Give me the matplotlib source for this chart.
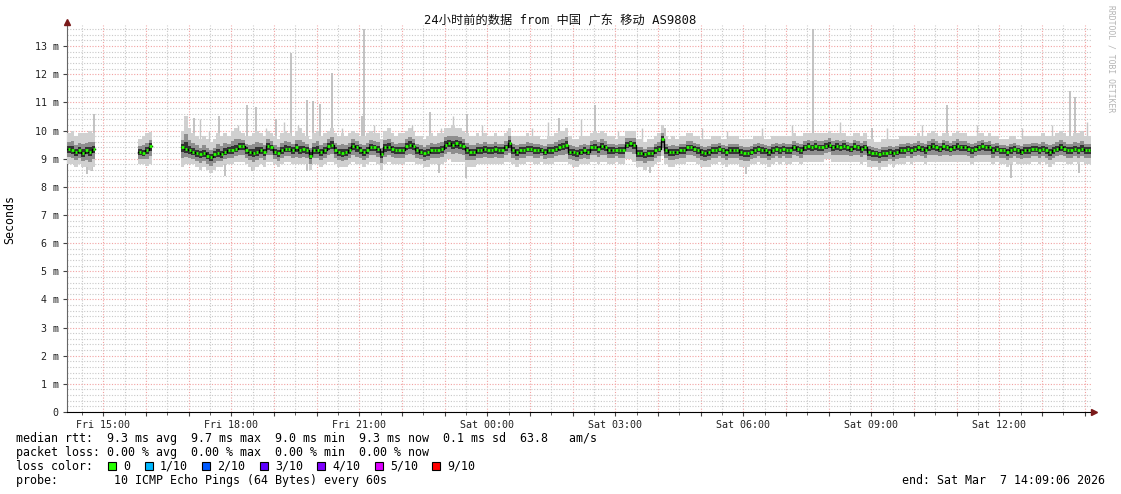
#encoding:utf-8
# smokeping 24h graph, redrawn with matplotlib
import matplotlib as mpl
mpl.use('Agg')
import matplotlib.pyplot as plt
from matplotlib.patches import Rectangle
from matplotlib.ticker import FixedLocator, MultipleLocator
import numpy as np

W, H = 1121, 494
STEP = 5  # minutes per sample

# --- data (milliseconds), start minute of every segment ---
seg_start = [0, 100, 160]

med1 = [9.35, 9.3, 9.25, 9.3, 9.2, 9.3, 9.25, 9.35]
hi1 = [9.9, 10.0, 9.8, 9.9, 9.9, 9.9, 10.0, 9.9]
lo1 = [8.8, 8.8, 8.7, 8.8, 8.7, 8.7, 8.6, 8.7]

med2 = [9.25, 9.2, 9.3, 9.45]
hi2 = [9.7, 9.8, 9.9, 9.95]
lo2 = [8.8, 8.8, 8.75, 8.8]

med3 = [
    9.4, 9.35, 9.3, 9.25, 9.2, 9.15, 9.2, 9.1, 9.05, 9.15, 9.2, 9.15,
    9.25, 9.3, 9.3, 9.35, 9.45, 9.45, 9.3, 9.25, 9.2, 9.25, 9.3, 9.25,
    9.45, 9.4, 9.25, 9.2, 9.3, 9.35, 9.35, 9.3, 9.4, 9.3, 9.35, 9.3,
    9.1, 9.3, 9.3, 9.25, 9.3, 9.45, 9.5, 9.3, 9.25, 9.2, 9.25, 9.3,
    9.45, 9.4, 9.3, 9.25, 9.3, 9.4, 9.4, 9.35, 9.15, 9.4, 9.4, 9.35,
    9.3, 9.3, 9.3, 9.45, 9.5, 9.45, 9.3, 9.25, 9.2, 9.25, 9.3, 9.3,
    9.3, 9.35, 9.5, 9.55, 9.5, 9.55, 9.5, 9.45, 9.3, 9.25, 9.25, 9.3,
    9.3, 9.35, 9.3, 9.3, 9.35, 9.3, 9.3, 9.4, 9.55, 9.3, 9.25, 9.3,
    9.3, 9.35, 9.35, 9.3, 9.3, 9.3, 9.25, 9.3, 9.3, 9.35, 9.4, 9.45,
    9.5, 9.25, 9.25, 9.2, 9.25, 9.3, 9.25, 9.4, 9.4, 9.35, 9.45, 9.4,
    9.3, 9.3, 9.3, 9.3, 9.3, 9.5, 9.55, 9.5, 9.2, 9.2, 9.15, 9.2,
    9.2, 9.3, 9.35, 9.7, 9.3, 9.25, 9.25, 9.25, 9.3, 9.3, 9.4, 9.4,
    9.35, 9.3, 9.25, 9.2, 9.25, 9.3, 9.3, 9.35, 9.3, 9.25, 9.3, 9.3,
    9.3, 9.25, 9.2, 9.2, 9.25, 9.3, 9.35, 9.3, 9.3, 9.25, 9.3, 9.35,
    9.3, 9.35, 9.3, 9.3, 9.4, 9.35, 9.3, 9.4, 9.45, 9.4, 9.45, 9.4,
    9.4, 9.45, 9.5, 9.4, 9.45, 9.4, 9.45, 9.4, 9.35, 9.45, 9.4, 9.35,
    9.4, 9.25, 9.2, 9.2, 9.15, 9.2, 9.2, 9.25, 9.2, 9.25, 9.3, 9.3,
    9.35, 9.3, 9.35, 9.4, 9.35, 9.3, 9.4, 9.45, 9.4, 9.35, 9.45, 9.4,
    9.35, 9.4, 9.45, 9.4, 9.4, 9.35, 9.3, 9.35, 9.4, 9.45, 9.4, 9.4,
    9.3, 9.35, 9.3, 9.3, 9.25, 9.3, 9.35, 9.3, 9.25, 9.3, 9.3, 9.35,
    9.35, 9.3, 9.35, 9.3, 9.25, 9.3, 9.35, 9.4, 9.35, 9.3, 9.3, 9.35,
    9.3, 9.35, 9.3, 9.3,
]
hi3 = [
    10.0, 10.5, 10.1, 9.9, 9.8, 9.7, 9.8, 9.7, 9.6, 9.7, 9.9, 9.8,
    9.9, 9.8, 10.0, 10.1, 10.0, 9.9, 9.8, 9.8, 9.9, 10.0, 9.9, 9.8,
    10.0, 9.9, 9.8, 9.7, 9.9, 10.0, 9.9, 9.8, 10.0, 10.1, 9.9, 9.8,
    9.7, 9.9, 10.0, 9.8, 9.9, 10.0, 10.1, 9.9, 9.8, 9.9, 9.8, 9.9,
    10.0, 9.9, 9.8, 9.8, 9.9, 10.0, 9.9, 9.9, 9.7, 10.0, 10.1, 9.9,
    9.8, 9.9, 9.9, 10.0, 10.1, 10.0, 9.8, 9.8, 9.7, 9.8, 9.9, 9.8,
    9.9, 9.9, 10.1, 10.1, 10.2, 10.1, 10.1, 10.0, 9.9, 9.8, 9.8, 9.9,
    9.8, 9.9, 9.8, 9.8, 9.9, 9.8, 9.8, 9.9, 10.1, 9.8, 9.8, 9.8,
    9.8, 9.9, 9.8, 9.8, 9.8, 9.7, 9.7, 9.8, 9.8, 9.9, 10.0, 10.0,
    10.1, 9.8, 9.7, 9.7, 9.8, 9.8, 9.8, 9.9, 10.0, 9.9, 10.0, 9.9,
    9.8, 9.8, 9.7, 9.8, 9.8, 10.0, 10.0, 10.0, 9.7, 9.7, 9.6, 9.7,
    9.7, 9.8, 9.9, 10.2, 9.8, 9.7, 9.8, 9.7, 9.8, 9.8, 9.9, 9.9,
    9.8, 9.8, 9.7, 9.7, 9.7, 9.8, 9.8, 9.8, 9.7, 9.7, 9.8, 9.8,
    9.8, 9.7, 9.7, 9.7, 9.7, 9.8, 9.8, 9.8, 9.7, 9.7, 9.8, 9.8,
    9.8, 9.8, 9.8, 9.8, 9.9, 9.8, 9.8, 9.9, 9.9, 9.9, 9.9, 9.9,
    9.9, 9.9, 10.0, 9.9, 9.9, 9.9, 9.9, 9.8, 9.8, 9.9, 9.9, 9.8,
    9.9, 9.7, 9.7, 9.6, 9.6, 9.7, 9.7, 9.7, 9.7, 9.7, 9.8, 9.8,
    9.8, 9.8, 9.8, 9.9, 9.8, 9.8, 9.9, 10.0, 9.9, 9.8, 9.9, 9.9,
    9.8, 9.9, 10.0, 9.9, 9.9, 9.8, 9.8, 9.8, 9.9, 9.9, 9.8, 9.9,
    9.8, 9.8, 9.7, 9.7, 9.7, 9.8, 9.8, 9.7, 9.7, 9.8, 9.8, 9.8,
    9.8, 9.8, 9.9, 9.8, 9.8, 9.8, 9.9, 10.0, 9.9, 9.8, 9.8, 9.9,
    9.9, 10.0, 9.8, 9.8,
]
lo3 = [
    8.7, 8.8, 8.8, 8.8, 8.7, 8.6, 8.7, 8.6, 8.5, 8.6, 8.7, 8.7,
    8.8, 8.8, 8.8, 8.9, 8.9, 8.9, 8.8, 8.7, 8.6, 8.7, 8.8, 8.7,
    8.9, 8.9, 8.8, 8.7, 8.8, 8.9, 8.9, 8.8, 8.8, 8.8, 8.8, 8.8,
    8.6, 8.8, 8.8, 8.7, 8.8, 8.9, 8.9, 8.8, 8.7, 8.7, 8.7, 8.8,
    8.9, 8.8, 8.8, 8.7, 8.8, 8.9, 8.9, 8.8, 8.6, 8.8, 8.9, 8.8,
    8.8, 8.8, 8.8, 8.9, 8.9, 8.9, 8.8, 8.8, 8.7, 8.7, 8.8, 8.8,
    8.8, 8.8, 8.9, 9.0, 8.9, 8.9, 8.9, 8.9, 8.7, 8.7, 8.7, 8.8,
    8.8, 8.8, 8.8, 8.8, 8.8, 8.8, 8.8, 8.9, 8.9, 8.8, 8.7, 8.8,
    8.8, 8.9, 8.9, 8.8, 8.8, 8.9, 8.8, 8.8, 8.8, 8.9, 8.9, 8.9,
    8.9, 8.8, 8.7, 8.7, 8.8, 8.8, 8.8, 8.9, 8.9, 8.8, 8.9, 8.9,
    8.8, 8.8, 8.9, 8.8, 8.8, 9.0, 9.0, 8.9, 8.7, 8.7, 8.6, 8.7,
    8.7, 8.8, 8.9, 9.1, 8.8, 8.7, 8.7, 8.8, 8.8, 8.8, 8.9, 8.9,
    8.9, 8.8, 8.7, 8.7, 8.7, 8.8, 8.8, 8.9, 8.8, 8.7, 8.8, 8.8,
    8.8, 8.7, 8.7, 8.7, 8.8, 8.8, 8.9, 8.8, 8.8, 8.7, 8.8, 8.9,
    8.8, 8.9, 8.8, 8.8, 8.9, 8.9, 8.8, 8.9, 8.9, 8.9, 8.9, 8.9,
    8.9, 9.0, 9.0, 8.9, 8.9, 8.9, 8.9, 8.9, 8.9, 8.9, 8.9, 8.8,
    8.9, 8.7, 8.7, 8.7, 8.6, 8.7, 8.7, 8.8, 8.7, 8.8, 8.8, 8.8,
    8.9, 8.8, 8.9, 8.9, 8.9, 8.8, 8.9, 8.9, 8.9, 8.9, 8.9, 8.9,
    8.9, 8.9, 8.9, 8.9, 8.9, 8.9, 8.8, 8.9, 8.9, 8.9, 8.9, 8.9,
    8.8, 8.9, 8.8, 8.8, 8.7, 8.8, 8.9, 8.8, 8.8, 8.8, 8.8, 8.9,
    8.9, 8.8, 8.9, 8.8, 8.7, 8.8, 8.9, 8.9, 8.9, 8.8, 8.8, 8.9,
    8.8, 8.9, 8.8, 8.8,
]

# single slow pings (minute, ms)
spike_min = [35, 176, 211, 250, 263, 292, 312, 335, 343, 353, 370, 412, 415,
             508, 560, 690, 740, 838, 1046, 1129, 1235, 1408, 1415]
spike_top = [10.6, 10.45, 10.5, 10.9, 10.85, 10.4, 12.75, 11.1, 11.05, 10.95, 12.05, 10.5, 13.6,
             10.65, 10.6, 10.45, 10.9, 10.1, 13.6, 10.1, 10.9, 11.4, 11.2]
small_min = [184, 197, 238, 278, 302, 322, 384, 429, 447, 482, 524, 541, 581, 616, 651,
             674, 721, 773, 806, 890, 925, 975, 1017, 1084, 1150, 1200, 1277, 1340, 1382, 1432]
small_top = [10.4, 10.0, 10.2, 10.1, 10.3, 10.2, 10.1, 10.2, 10.0, 10.2, 10.1, 10.5, 10.2, 10.0, 10.1,
             10.3, 10.4, 10.0, 10.1, 10.1, 10.0, 10.1, 10.2, 10.3, 10.1, 10.2, 10.2, 10.1, 10.2, 10.3]
dip_min = [25, 32, 219, 257, 335, 520, 558, 818, 952, 1325, 1420]
dip_val = [8.45, 8.55, 8.4, 8.55, 8.55, 8.5, 8.3, 8.5, 8.45, 8.3, 8.5]

tick_labels = ['Fri 15:00', 'Fri 18:00', 'Fri 21:00', 'Sat 00:00',
               'Sat 03:00', 'Sat 06:00', 'Sat 09:00', 'Sat 12:00']
first_hour = 50.9 / 60  # 15:00 relative to start 14:09:06

loss_labels = ['0', '1/10', '2/10', '3/10', '4/10', '5/10', '9/10']
loss_colors = ['#26ff00', '#00b8ff', '#0059ff', '#5e00ff', '#7e00ff', '#dd00ff', '#ff0000']

title = '24小时前的数据 from 中国 广东 移动 AS9808'
stats = ['median rtt:  9.3 ms avg  9.7 ms max  9.0 ms min  9.3 ms now  0.1 ms sd  63.8   am/s',
         'packet loss: 0.00 % avg  0.00 % max  0.00 % min  0.00 % now']
probe = 'probe:        10 ICMP Echo Pings (64 Bytes) every 60s'
end_text = 'end: Sat Mar  7 14:09:06 2026'

MONO = 'DejaVu Sans Mono'
plt.rcParams['font.family'] = [MONO, 'Noto Sans CJK SC']

fig = plt.figure(figsize=(W / 100, H / 100), dpi=100)
ax = fig.add_axes([67 / W, 82 / H, 1024 / W, 387 / H])
ax.set_xlim(0, 24)
ax.set_ylim(0, 13.75)

w = STEP / 60.0
segs = [(seg_start[0], med1, hi1, lo1), (seg_start[1], med2, hi2, lo2), (seg_start[2], med3, hi3, lo3)]

# spikes first, under the smoke
ax.vlines(np.array(spike_min) / 60.0 + w / 2, 9.5, spike_top, colors='#bdbdbd', lw=1.3, zorder=2)
ax.vlines(np.array(small_min) / 60.0 + w / 2, 9.5, small_top, colors='#c6c6c6', lw=1.0, zorder=2)
ax.vlines(np.array(dip_min) / 60.0 + w / 2, dip_val, 9.1, colors='#bdbdbd', lw=1.3, zorder=2)

for s0, med, hi, lo in segs:
    med = np.array(med); hi = np.array(hi); lo = np.array(lo)
    t = (s0 + STEP * np.arange(len(med))) / 60.0
    ax.bar(t, hi - lo, bottom=lo, width=w, align='edge', color='#d0d0d0', lw=0, zorder=3)
    m_lo = med - 0.55 * (med - lo)
    m_hi = med + 0.45 * (hi - med)
    ax.bar(t, m_hi - m_lo, bottom=m_lo, width=w, align='edge', color='#8e8e8e', lw=0, zorder=3)
    i_lo = med - 0.25 * (med - lo)
    i_hi = med + 0.2 * (hi - med)
    ax.bar(t, i_hi - i_lo, bottom=i_lo, width=w, align='edge', color='#333333', lw=0, zorder=3)
    edges = np.append(t, t[-1] + w)
    ax.step(edges, np.append(med, med[-1]), where='post', color='#000000', lw=1, zorder=4)
    # green median dashes, black shows between them like in the rrd graph
    ax.hlines(med, t + 0.2 * w, t + 0.85 * w, colors='#26ff00', lw=2.0, zorder=5)

# grid
hours = first_hour + np.arange(0, 24)
halfs = first_hour - 0.5 + np.arange(0, 25)
halfs = halfs[(halfs > 0) & (halfs < 24)]
ax.xaxis.set_major_locator(FixedLocator(hours))
ax.xaxis.set_minor_locator(FixedLocator(halfs))
ax.set_xticklabels([tick_labels[i // 3] if i % 3 == 0 else '' for i in range(len(hours))])
ax.set_yticks(range(14))
ax.yaxis.set_minor_locator(MultipleLocator(0.2))
ax.set_yticklabels(['0' if v == 0 else '%d m' % v for v in range(14)])

ax.grid(True, which='major', color='#f2a2a2', ls=(0, (1, 1.5)), lw=0.8)
ax.grid(True, which='minor', color='#c8c8c8', ls=(0, (1, 1.5)), lw=0.8)
ax.set_axisbelow(True)

ax.tick_params(which='both', labelsize=7.2, colors='#222222', pad=3)
ax.tick_params(axis='x', which='major', length=3, color='#444444')
ax.tick_params(axis='x', which='minor', length=2, color='#444444')
ax.tick_params(axis='y', which='major', length=3, color='#444444')
ax.tick_params(axis='y', which='minor', length=0)
for lab in ax.get_xticklabels() + ax.get_yticklabels():
    lab.set_family(MONO)

for sp in ['top', 'right']:
    ax.spines[sp].set_visible(False)
ax.spines['left'].set_color('#666666')
ax.spines['bottom'].set_color('#000000')
ax.plot([0], [1.008], marker='^', color='#7a1a1a', ms=4, transform=ax.transAxes, clip_on=False, zorder=6)
ax.plot([1.003], [0], marker='>', color='#7a1a1a', ms=4, transform=ax.transAxes, clip_on=False, zorder=6)

def px(x, y):
    return x / W, 1 - y / H

fig.text(*px(560, 21), title, ha='center', va='center', fontsize=8.8,
         family=[MONO, 'Noto Sans CJK SC'], color='#111111')
fig.text(*px(10, 219), 'Seconds', rotation=90, ha='center', va='center', fontsize=8.4, family=MONO)
fig.text(*px(1111, 5), 'RRDTOOL / TOBI OETIKER', rotation=270, ha='center', va='top',
         fontsize=5.8, family=MONO, color='#b4b4b4')

FS = 8.4
fig.text(*px(16, 438), stats[0], ha='left', va='center', fontsize=FS, family=MONO)
fig.text(*px(16, 452), stats[1], ha='left', va='center', fontsize=FS, family=MONO)
fig.text(*px(16, 466), 'loss color:', ha='left', va='center', fontsize=FS, family=MONO)
fig.text(*px(16, 480), probe, ha='left', va='center', fontsize=FS, family=MONO)
fig.text(*px(1105, 480), end_text, ha='right', va='center', fontsize=FS, family=MONO)

cw = 7.0
x = 108
for lab, col in zip(loss_labels, loss_colors):
    fig.patches.append(Rectangle(px(x, 470), 8 / W, 8 / H, transform=fig.transFigure,
                                 facecolor=col, edgecolor='black', lw=0.8))
    fig.text(*px(x + 15.5, 466), lab, ha='left', va='center', fontsize=FS, family=MONO)
    x = x + 15.5 + len(lab) * cw + 14

fig.savefig('out.png', dpi=100)
print('drawing successed!')
